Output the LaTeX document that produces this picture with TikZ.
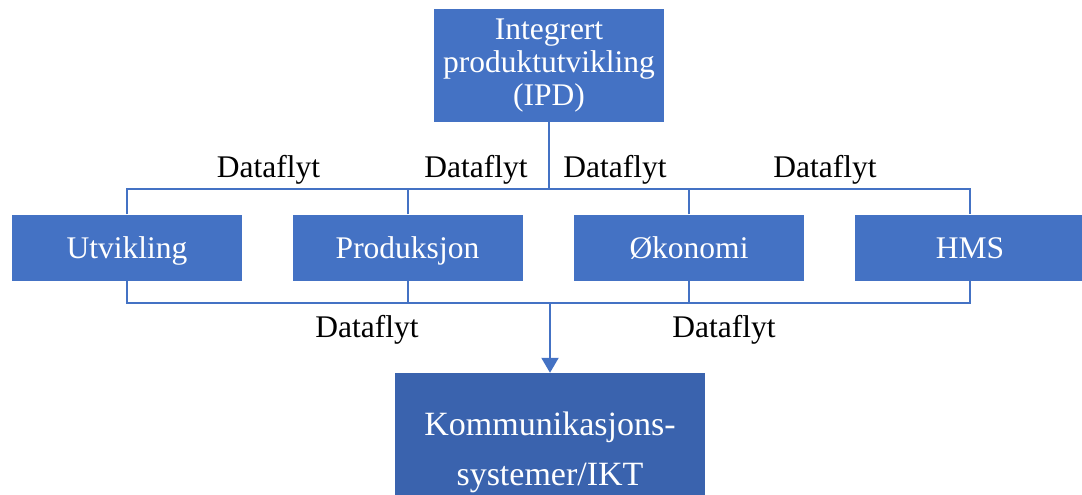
\documentclass[tikz,border=0pt]{standalone}
\usepackage{fontspec}
\setmainfont{Liberation Serif}
\usetikzlibrary{arrows.meta}
\definecolor{boxblue}{HTML}{4472C4}
\definecolor{boxdark}{HTML}{3A63AE}
\definecolor{linkblue}{HTML}{4472C4}
\begin{document}
\begin{tikzpicture}[x=1pt,y=-1pt,
  unitbase/.style={rectangle, fill=boxblue, text=white, inner sep=0pt,
    minimum width=230pt, minimum height=66pt,
    font=\fontsize{31.5}{33}\selectfont},
  unit/.style={unitbase, text height=21.5pt, text depth=0pt},
  link/.style={draw=linkblue, line width=2pt},
  flow/.style={anchor=base, inner sep=0pt, font=\fontsize{31.5}{33}\selectfont}]
\useasboundingbox (0,0) rectangle (1082,495);

% main boxes
\node[unitbase, minimum height=113pt, align=center] (ipd) at (549,65.5)
  {Integrert\\produktutvikling\\(IPD)};
\node[unit] (u) at (127,247.5) {Utvikling};
\node[unit] (p) at (407.5,247.5) {Produksjon};
\node[unit] (o) at (689,247.5) {Økonomi};
\node[unit] (h) at (970,247.5) {HMS};
\node[unitbase, fill=boxdark, minimum width=310pt, minimum height=158pt,
  align=center, font=\fontsize{34}{50}\selectfont] (ikt) at (550,452)
  {Kommunikasjons-\\systemer/IKT};

% bus levels
\coordinate (tb) at (0,189);
\coordinate (bb) at (0,303);

% upper distribution bus
\draw[link] (u.north) -- (u.north |- tb) -- (h.north |- tb) -- (h.north);
\draw[link] (p.north) -- (p.north |- tb);
\draw[link] (o.north) -- (o.north |- tb);
\draw[link] (ipd.south) -- (ipd.south |- tb);

% lower collection bus
\draw[link] (u.south) -- (u.south |- bb) -- (h.south |- bb) -- (h.south);
\draw[link] (p.south) -- (p.south |- bb);
\draw[link] (o.south) -- (o.south |- bb);
\draw[link, -{Triangle[width=17pt,length=15pt]}] (ikt.north |- bb) -- (ikt.north);

% flow labels
\node[flow] (d1) at (268.5,177) {Dataflyt};
\node[flow] (d2) at (476,177) {Dataflyt};
\node[flow] (d3) at (615,177) {Dataflyt};
\node[flow] (d4) at (825,177) {Dataflyt};
\node[flow] (d5) at (367,337) {Dataflyt};
\node[flow] (d6) at (724,337) {Dataflyt};
\end{tikzpicture}
\end{document}
